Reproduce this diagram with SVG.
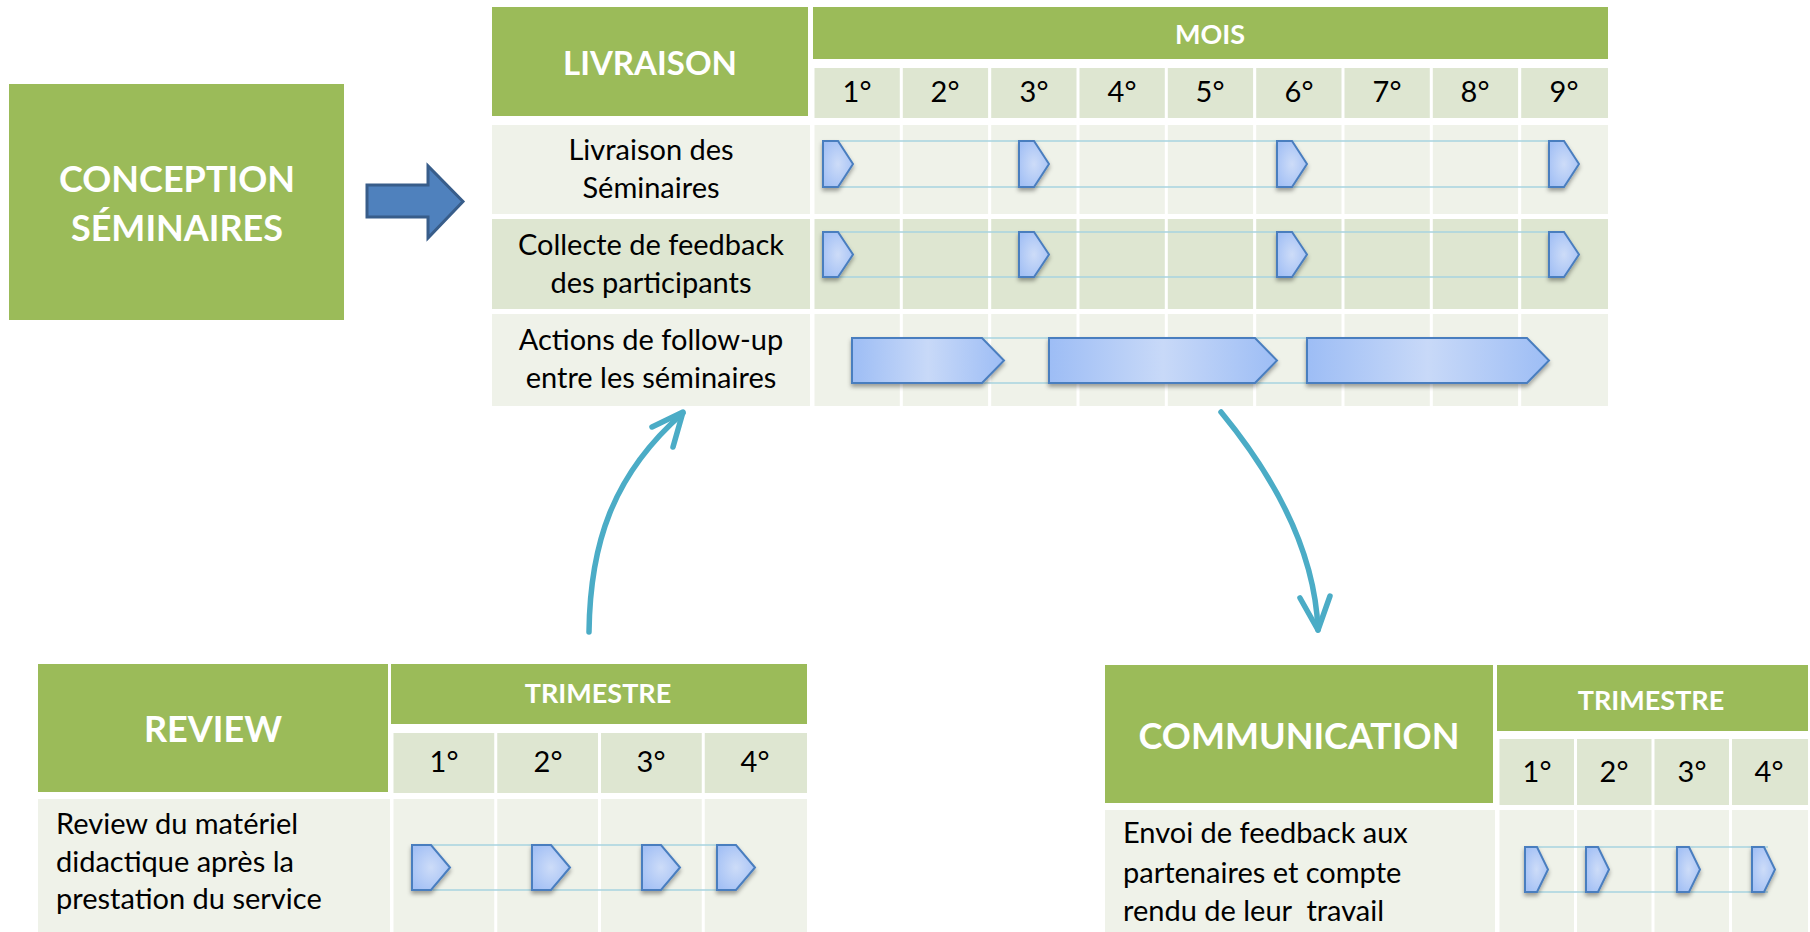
<svg xmlns="http://www.w3.org/2000/svg" width="1810" height="932" viewBox="0 0 1810 932">
<defs>
<radialGradient id="gP" cx="0.5" cy="0.5" r="0.6">
<stop offset="0" stop-color="#cddcf8"/>
<stop offset="1" stop-color="#a3c0f5"/>
</radialGradient>
<linearGradient id="gB" x1="0" y1="0" x2="1" y2="0">
<stop offset="0" stop-color="#9dbdf5"/>
<stop offset="0.5" stop-color="#c8d9f8"/>
<stop offset="1" stop-color="#9dbdf5"/>
</linearGradient>
<filter id="sh" x="-30%" y="-30%" width="160%" height="170%">
<feDropShadow dx="0" dy="3" stdDeviation="2" flood-color="#000" flood-opacity="0.35"/>
</filter>
</defs>
<style>
.hdr{fill:#9bbb59}
.ca{fill:#eff2e9}
.cb{fill:#dee6d1}
.ms{fill:url(#gP);stroke:#4a7ebf;stroke-width:2;filter:url(#sh)}
.bar{fill:url(#gB);stroke:#4a7ebf;stroke-width:2;filter:url(#sh)}
.lk{stroke:#a8d3e0;stroke-width:1.5;fill:none}
.ht{font-family:Lato,"Liberation Sans",sans-serif;font-weight:bold;fill:#fff;text-anchor:middle}
.lt{font-family:Lato,"Liberation Sans",sans-serif;font-size:29px;fill:#000}
.c{text-anchor:middle}
.cur{fill:none;stroke:#4bacc6;stroke-width:5.5;stroke-linecap:round;stroke-linejoin:round}
</style>
<rect width="1810" height="932" fill="#fff"/>

<g id="conception">
<rect class="hdr" x="9" y="84" width="335" height="236"/>
<text class="ht" x="177" y="192" font-size="36">CONCEPTION</text>
<text class="ht" x="177" y="241" font-size="36">SÉMINAIRES</text>
</g>

<g id="livraison">
<rect class="hdr" x="492" y="7" width="316" height="109"/>
<text class="ht" x="650" y="75" font-size="33">LIVRAISON</text>
<rect class="hdr" x="813" y="7" width="795" height="52"/>
<text class="ht" x="1210" y="44" font-size="27">MOIS</text>
<g class="cb">
<rect x="814.5" y="68" width="85.3" height="50"/><rect x="902.8" y="68" width="85.3" height="50"/><rect x="991.2" y="68" width="85.3" height="50"/><rect x="1079.5" y="68" width="85.3" height="50"/><rect x="1167.8" y="68" width="85.3" height="50"/><rect x="1256.2" y="68" width="85.3" height="50"/><rect x="1344.5" y="68" width="85.3" height="50"/><rect x="1432.8" y="68" width="85.3" height="50"/><rect x="1521.2" y="68" width="86.8" height="50"/>
</g>
<g class="lt c">
<text x="857" y="102">1°</text><text x="945" y="102">2°</text><text x="1034" y="102">3°</text><text x="1122" y="102">4°</text><text x="1210" y="102">5°</text><text x="1299" y="102">6°</text><text x="1387" y="102">7°</text><text x="1475" y="102">8°</text><text x="1564" y="102">9°</text>
</g>
<g class="ca">
<rect x="492" y="125" width="318" height="89"/>
<rect x="814.5" y="125" width="85.3" height="89"/><rect x="902.8" y="125" width="85.3" height="89"/><rect x="991.2" y="125" width="85.3" height="89"/><rect x="1079.5" y="125" width="85.3" height="89"/><rect x="1167.8" y="125" width="85.3" height="89"/><rect x="1256.2" y="125" width="85.3" height="89"/><rect x="1344.5" y="125" width="85.3" height="89"/><rect x="1432.8" y="125" width="85.3" height="89"/><rect x="1521.2" y="125" width="86.8" height="89"/>
</g>
<g class="cb">
<rect x="492" y="219" width="318" height="90"/>
<rect x="814.5" y="219" width="85.3" height="90"/><rect x="902.8" y="219" width="85.3" height="90"/><rect x="991.2" y="219" width="85.3" height="90"/><rect x="1079.5" y="219" width="85.3" height="90"/><rect x="1167.8" y="219" width="85.3" height="90"/><rect x="1256.2" y="219" width="85.3" height="90"/><rect x="1344.5" y="219" width="85.3" height="90"/><rect x="1432.8" y="219" width="85.3" height="90"/><rect x="1521.2" y="219" width="86.8" height="90"/>
</g>
<g class="ca">
<rect x="492" y="314" width="318" height="92"/>
<rect x="814.5" y="314" width="85.3" height="92"/><rect x="902.8" y="314" width="85.3" height="92"/><rect x="991.2" y="314" width="85.3" height="92"/><rect x="1079.5" y="314" width="85.3" height="92"/><rect x="1167.8" y="314" width="85.3" height="92"/><rect x="1256.2" y="314" width="85.3" height="92"/><rect x="1344.5" y="314" width="85.3" height="92"/><rect x="1432.8" y="314" width="85.3" height="92"/><rect x="1521.2" y="314" width="86.8" height="92"/>
</g>
<g class="lt c">
<text x="651" y="160">Livraison des</text><text x="651" y="198">Séminaires</text>
<text x="651" y="255">Collecte de feedback</text><text x="651" y="293">des participants</text>
<text x="651" y="350">Actions de follow-up</text><text x="651" y="388">entre les séminaires</text>
</g>
<g class="lk">
<path d="M838 141H1564M838 187H1564"/>
<path d="M838 232H1564M838 277H1564"/>
<path d="M982 338H1307M982 383H1307"/>
</g>
<path class="ms" d="M823 141h15l15 23l-15 23h-15z"/>
<path class="ms" d="M1019 141h15l15 23l-15 23h-15z"/>
<path class="ms" d="M1277 141h15l15 23l-15 23h-15z"/>
<path class="ms" d="M1549 141h15l15 23l-15 23h-15z"/>
<path class="ms" d="M823 232h15l15 22.5l-15 22.5h-15z"/>
<path class="ms" d="M1019 232h15l15 22.5l-15 22.5h-15z"/>
<path class="ms" d="M1277 232h15l15 22.5l-15 22.5h-15z"/>
<path class="ms" d="M1549 232h15l15 22.5l-15 22.5h-15z"/>
<path class="bar" d="M852 338H982L1004 360.5L982 383H852z"/>
<path class="bar" d="M1049 338H1255L1277 360.5L1255 383H1049z"/>
<path class="bar" d="M1307 338H1527L1549 360.5L1527 383H1307z"/>
</g>

<g id="review">
<rect class="hdr" x="38" y="664" width="350" height="128"/>
<text class="ht" x="213" y="742" font-size="36">REVIEW</text>
<rect class="hdr" x="391" y="664" width="416" height="60"/>
<text class="ht" x="598" y="703" font-size="27">TRIMESTRE</text>
<g class="cb">
<rect x="393.5" y="733" width="100.75" height="60"/><rect x="497.25" y="733" width="100.75" height="60"/><rect x="601" y="733" width="100.75" height="60"/><rect x="704.75" y="733" width="102.25" height="60"/>
</g>
<g class="lt c">
<text x="444" y="772">1°</text><text x="548" y="772">2°</text><text x="651" y="772">3°</text><text x="755" y="772">4°</text>
</g>
<g class="ca">
<rect x="38" y="799" width="352" height="133"/>
<rect x="393.5" y="799" width="100.75" height="133"/><rect x="497.25" y="799" width="100.75" height="133"/><rect x="601" y="799" width="100.75" height="133"/><rect x="704.75" y="799" width="102.25" height="133"/>
</g>
<g class="lt">
<text x="56" y="834">Review du matériel</text><text x="56" y="872">didactique après la</text><text x="56" y="909">prestation du service</text>
</g>
<path class="lk" d="M431 845H736M431 890H736"/>
<path class="ms" d="M412 845h19l19 22.5l-19 22.5h-19z"/>
<path class="ms" d="M532 845h19l19 22.5l-19 22.5h-19z"/>
<path class="ms" d="M642 845h19l19 22.5l-19 22.5h-19z"/>
<path class="ms" d="M717 845h19l19 22.5l-19 22.5h-19z"/>
</g>

<g id="communication">
<rect class="hdr" x="1105" y="665" width="388" height="138"/>
<text class="ht" x="1299" y="749" font-size="36">COMMUNICATION</text>
<rect class="hdr" x="1497" y="665" width="311" height="66"/>
<text class="ht" x="1651" y="710" font-size="27">TRIMESTRE</text>
<g class="cb">
<rect x="1499.5" y="739" width="74.5" height="66"/><rect x="1577" y="739" width="74.5" height="66"/><rect x="1654.5" y="739" width="74.5" height="66"/><rect x="1732" y="739" width="76" height="66"/>
</g>
<g class="lt c">
<text x="1537" y="782">1°</text><text x="1614" y="782">2°</text><text x="1692" y="782">3°</text><text x="1769" y="782">4°</text>
</g>
<g class="ca">
<rect x="1105" y="810" width="390" height="122"/>
<rect x="1499.5" y="810" width="74.5" height="122"/><rect x="1577" y="810" width="74.5" height="122"/><rect x="1654.5" y="810" width="74.5" height="122"/><rect x="1732" y="810" width="76" height="122"/>
</g>
<g class="lt">
<text x="1123" y="843">Envoi de feedback aux</text><text x="1123" y="883">partenaires et compte</text><text x="1123" y="921" style="white-space:pre">rendu de leur  travail</text>
</g>
<path class="lk" d="M1537 847H1768M1537 892H1768"/>
<path class="ms" d="M1525 847h12l11 22.5l-11 22.5h-12z"/>
<path class="ms" d="M1586 847h12l11 22.5l-11 22.5h-12z"/>
<path class="ms" d="M1677 847h12l11 22.5l-11 22.5h-12z"/>
<path class="ms" d="M1752 847h12l11 22.5l-11 22.5h-12z"/>
</g>

<g id="connectors">
<path d="M367 185H428V166L463 201.5L428 238V217H367z" fill="#4f81bd" stroke="#385d8a" stroke-width="3"/>
<path class="cur" d="M589 632C590 545 612 475 683 413"/>
<path class="cur" d="M652 427L683 412L673 447"/>
<path class="cur" d="M1221 412Q1314 525 1318 630"/>
<path class="cur" d="M1300 598L1318 630L1330 596"/>
</g>
</svg>
